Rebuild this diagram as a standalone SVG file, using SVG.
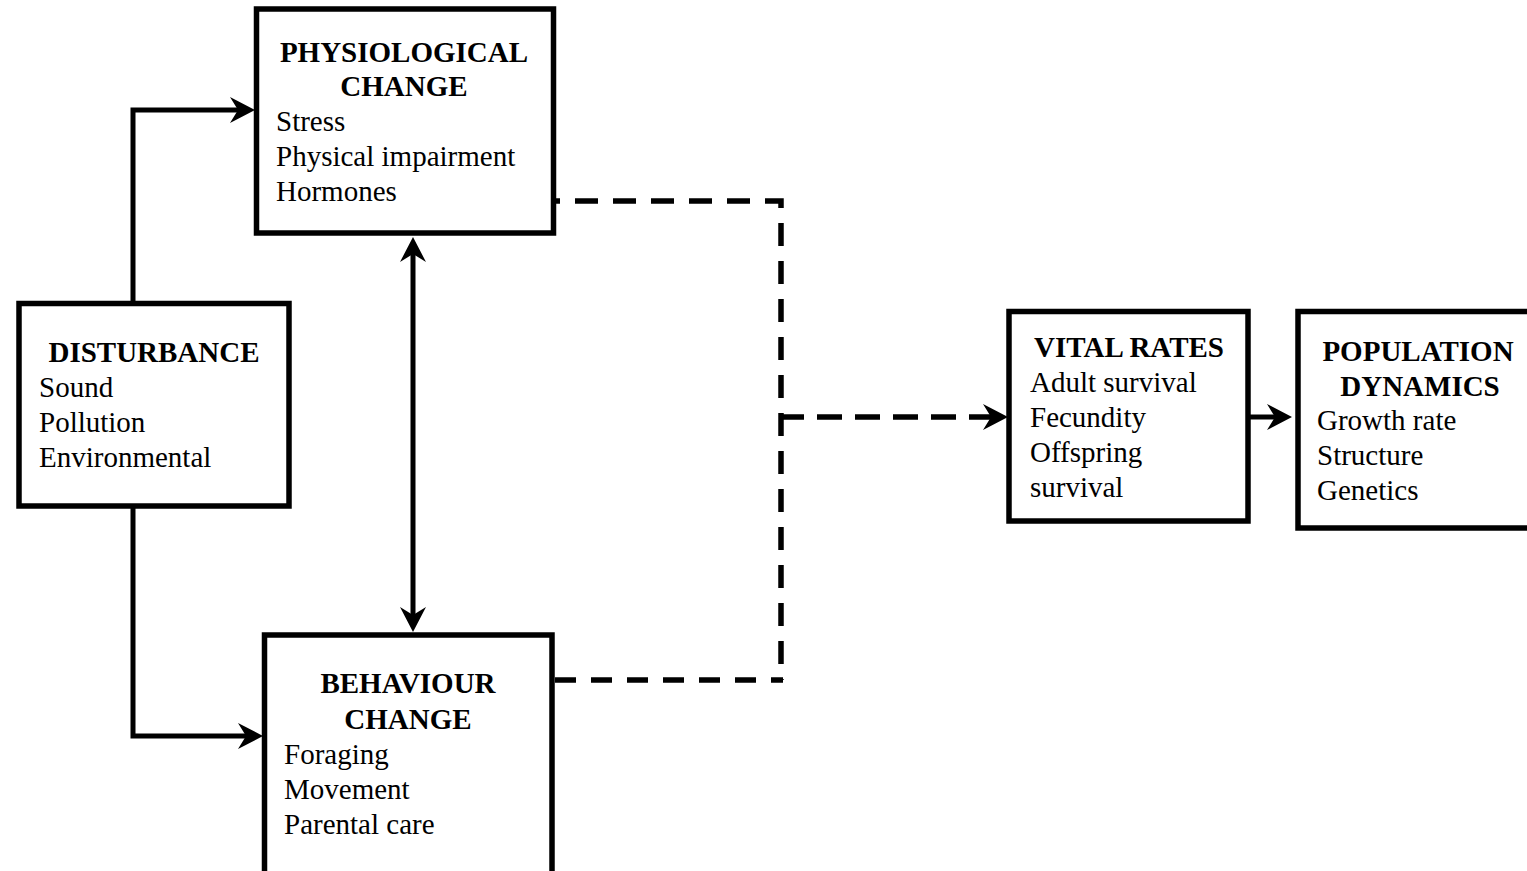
<svg xmlns="http://www.w3.org/2000/svg" width="1527" height="871" viewBox="0 0 1527 871">
  <style>
    .box { fill: #fff; stroke: #000; stroke-width: 5.5; }
    .t { font-family: "Liberation Serif", "Times New Roman", serif; font-size: 29px; fill: #000; }
    .h { font-weight: bold; text-anchor: middle; }
    .link { fill: none; stroke: #000; stroke-width: 5; }
    .dash { fill: none; stroke: #000; stroke-width: 5.5; stroke-dasharray: 23 15; }
  </style>
  <defs>
    <marker id="arrow" markerUnits="userSpaceOnUse" viewBox="0 -14 26 28" refX="10" refY="0" markerWidth="26" markerHeight="28" orient="auto-start-reverse">
      <path d="M0,-13 L25,0 L0,13 L8,0 Z" fill="#000"/>
    </marker>
  </defs>

  <rect width="1527" height="871" fill="#fff"/>

  <!-- connectors -->
  <g id="connectors">
    <path class="link" d="M133,303 V110 H240" marker-end="url(#arrow)"/>
    <path class="link" d="M133,506 V736 H248" marker-end="url(#arrow)"/>
    <path class="link" d="M413,252 V617" marker-start="url(#arrow)" marker-end="url(#arrow)"/>
    <!-- dashed bracket joining both change boxes -->
    <path class="dash" d="M556,201 H781 V680" stroke-dashoffset="19"/>
    <path class="dash" d="M555,680 H783" style="stroke-dasharray:21 15"/>
    <path class="dash" d="M779,417 H993" style="stroke-dasharray:25 13" marker-end="url(#arrow)"/>
    <path class="link" d="M1250,417 H1277" marker-end="url(#arrow)"/>
  </g>

  <!-- physiological change -->
  <g id="physiological">
    <rect class="box" x="256.5" y="9" width="297" height="224"/>
    <text class="t h" x="404" y="62">PHYSIOLOGICAL</text>
    <text class="t h" x="404" y="96">CHANGE</text>
    <text class="t" x="276" y="131">Stress</text>
    <text class="t" x="276" y="166">Physical impairment</text>
    <text class="t" x="276" y="201">Hormones</text>
  </g>

  <!-- disturbance -->
  <g id="disturbance">
    <rect class="box" x="19" y="303.5" width="270" height="202.5"/>
    <text class="t h" x="154" y="362">DISTURBANCE</text>
    <text class="t" x="39" y="397">Sound</text>
    <text class="t" x="39" y="432">Pollution</text>
    <text class="t" x="39" y="467">Environmental</text>
  </g>

  <!-- behaviour change -->
  <g id="behaviour">
    <rect class="box" x="264.5" y="635" width="287.5" height="260"/>
    <text class="t h" x="408" y="693">BEHAVIOUR</text>
    <text class="t h" x="408" y="729">CHANGE</text>
    <text class="t" x="284" y="764">Foraging</text>
    <text class="t" x="284" y="799">Movement</text>
    <text class="t" x="284" y="834">Parental care</text>
  </g>

  <!-- vital rates -->
  <g id="vital-rates">
    <rect class="box" x="1009" y="311.5" width="239" height="209.5"/>
    <text class="t h" x="1129" y="357">VITAL RATES</text>
    <text class="t" x="1030" y="392">Adult survival</text>
    <text class="t" x="1030" y="427">Fecundity</text>
    <text class="t" x="1030" y="462">Offspring</text>
    <text class="t" x="1030" y="497">survival</text>
  </g>

  <!-- population dynamics -->
  <g id="population">
    <rect class="box" x="1298" y="311.5" width="260" height="216.5"/>
    <text class="t h" x="1418" y="361">POPULATION</text>
    <text class="t h" x="1420" y="396">DYNAMICS</text>
    <text class="t" x="1317" y="430">Growth rate</text>
    <text class="t" x="1317" y="465">Structure</text>
    <text class="t" x="1317" y="500">Genetics</text>
  </g>
</svg>
